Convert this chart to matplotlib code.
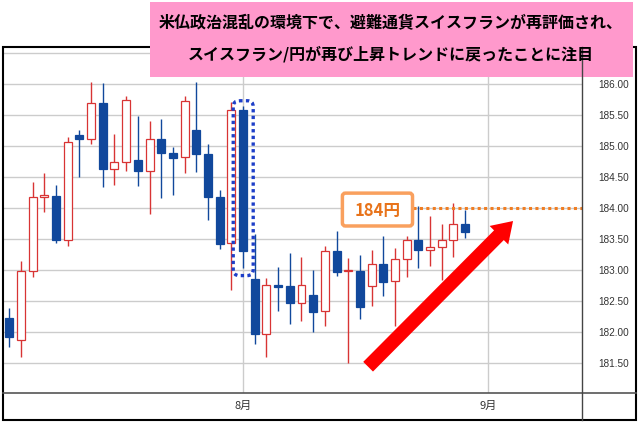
import matplotlib
matplotlib.use('Agg')
import matplotlib.pyplot as plt
import numpy as np
from matplotlib.patches import Rectangle, FancyBboxPatch

# ---- data ----
opens = [182.22, 181.87, 182.98, 184.17, 184.20, 183.49, 185.18, 185.12, 185.70, 184.63,
         184.75, 184.77, 184.59, 185.11, 184.88, 184.82, 185.26, 184.87, 184.17, 183.43,
         185.58, 182.85, 181.96, 182.76, 182.74, 182.46, 182.59, 182.34, 183.30, 182.98,
         182.98, 182.74, 183.09, 182.82, 183.17, 183.48, 183.32, 183.37, 183.49, 183.74]
highs = [182.39, 183.15, 184.42, 184.56, 184.37, 185.15, 185.26, 186.03, 186.01, 185.19,
         185.81, 185.48, 185.40, 185.43, 184.98, 185.81, 186.03, 185.03, 184.29, 185.71,
         185.64, 183.58, 182.87, 183.05, 183.28, 183.21, 183.00, 183.39, 183.63, 183.20,
         183.24, 183.32, 183.55, 183.35, 183.55, 184.04, 183.87, 183.74, 184.08, 183.97]
lows = [181.76, 181.60, 182.89, 183.94, 183.44, 183.38, 184.50, 185.04, 184.34, 184.37,
        184.59, 184.36, 183.90, 184.16, 184.21, 184.57, 184.58, 183.80, 183.34, 182.68,
        183.03, 181.80, 181.60, 182.34, 182.13, 182.17, 182.00, 182.09, 182.90, 181.50,
        182.21, 182.42, 182.58, 182.10, 182.88, 183.04, 183.07, 182.84, 183.21, 183.52]
closes = [181.92, 182.98, 184.18, 184.21, 183.49, 185.06, 185.12, 185.70, 184.63, 184.75,
          185.74, 184.59, 185.11, 184.88, 184.81, 185.72, 184.87, 184.17, 183.42, 185.58,
          183.30, 181.96, 182.75, 182.73, 182.46, 182.75, 182.33, 183.30, 182.96, 183.00,
          182.40, 183.09, 182.81, 183.17, 183.48, 183.33, 183.37, 183.49, 183.74, 183.61]
price_ticks = [181.5, 182.0, 182.5, 183.0, 183.5, 184.0, 184.5, 185.0, 185.5, 186.0, 186.5]
month_pos = [20, 41]
month_labels = ['8月', '9月']
target_price = 184.0
target_label = '184円'
highlight_idx = 20
title_lines = ['米仏政治混乱の環境下で、避難通貨スイスフランが再評価され、',
               'スイスフラン/円が再び上昇トレンドに戻ったことに注目']

JP = ['Noto Sans CJK JP', 'DejaVu Sans']
RED = '#D83434'
BLUE = '#11489C'

W, H = 640, 422
fig = plt.figure(figsize=(W / 100, H / 100), dpi=100)
fig.patch.set_facecolor('white')
L, R, T, B = 2.5, 582, 47, 393
ax = fig.add_axes([L / W, 1 - B / H, (R - L) / W, (B - T) / H])
n = len(opens)
x = np.arange(n)
ax.set_xlim(-0.58, 49.0)
ax.set_ylim(181.016, 186.597)

o = np.array(opens); c = np.array(closes)
up = c >= o
cols = [RED if u else BLUE for u in up]
ax.vlines(x, lows, highs, colors=cols, lw=1.0, zorder=2)
lo = np.minimum(o, c)
ht = np.maximum(np.abs(c - o), 0.012)
ax.bar(x, ht, bottom=lo, width=0.68, color=['white' if u else BLUE for u in up],
       edgecolor=cols, lw=0.9, zorder=3)

ax.yaxis.tick_right()
ax.set_yticks(price_ticks)
ax.set_yticklabels([f'{v:.2f}' for v in price_ticks], family='Liberation Sans')
ax.tick_params(axis='y', length=0, pad=12, labelsize=7.2, labelcolor='#333333')
ax.set_xticks(month_pos)
ax.set_xticklabels(month_labels, family=JP)
ax.tick_params(axis='x', length=0, pad=6, labelsize=8, labelcolor='#333333')
ax.grid(True, color='#cccccc', lw=1.0)
ax.set_axisbelow(True)
for s in ax.spines.values():
    s.set_visible(False)

# target dotted line
ax.hlines(target_price, 34.5, 49.0, color='#F07D22', lw=2.2,
          linestyles=(0, (1, 1.1)), zorder=4)
# arrow
ax.annotate('', xy=(43.1, 183.79), xytext=(30.7, 181.44),
            arrowprops=dict(arrowstyle='simple,head_width=1.05,head_length=0.8,tail_width=0.55',
                            mutation_scale=18, color='#FF0000', lw=0, shrinkA=0, shrinkB=0),
            zorder=6)

# overlay in pixel space
ov = fig.add_axes([0, 0, 1, 1], zorder=5)
ov.set_xlim(0, W); ov.set_ylim(H, 0)
ov.axis('off'); ov.patch.set_visible(False)

def to_px(xd, yd):
    return ov.transData.inverted().transform(ax.transData.transform((xd, yd)))

# frame
ov.add_patch(Rectangle((2.5, 47), 633, 373, fill=False, ec='black', lw=1.5))
ov.plot([2.5, 635.5], [393, 393], color='#555555', lw=1.2)
ov.plot([582, 582], [47, 420], color='#444444', lw=1.0)

# highlight box around candle
p0 = to_px(highlight_idx - 0.84, 185.73)
p1 = to_px(highlight_idx + 0.87, 182.91)
ov.add_patch(FancyBboxPatch((p0[0], p0[1]), p1[0] - p0[0], p1[1] - p0[1],
                            boxstyle='round,pad=0,rounding_size=6', fill=False,
                            ec='#1E3FC8', lw=2.4, ls=(0, (1, 1.0))))

# 184 label box
q0 = to_px(28.5, 184.24)
q1 = to_px(34.5, 183.71)
ov.add_patch(FancyBboxPatch((q0[0], q0[1]), q1[0] - q0[0], q1[1] - q0[1],
                            boxstyle='round,pad=0,rounding_size=3', fc='white',
                            ec='#F9A05E', lw=2.5))
ov.text((q0[0] + q1[0]) / 2, (q0[1] + q1[1]) / 2 + 1, target_label, family=JP,
        fontsize=12, fontweight='bold', color='#E8731A', ha='center', va='center')

# title box
ov.add_patch(Rectangle((150, 2), 483, 75, fc='#FF99CC', ec='none'))
ov.text(391, 23, title_lines[0], family=JP, fontsize=11.5, fontweight='bold',
        color='black', ha='center', va='center')
ov.text(391, 54, title_lines[1], family=JP, fontsize=11.5, fontweight='bold',
        color='black', ha='center', va='center')

fig.savefig('out.png', dpi=100, facecolor='white')
